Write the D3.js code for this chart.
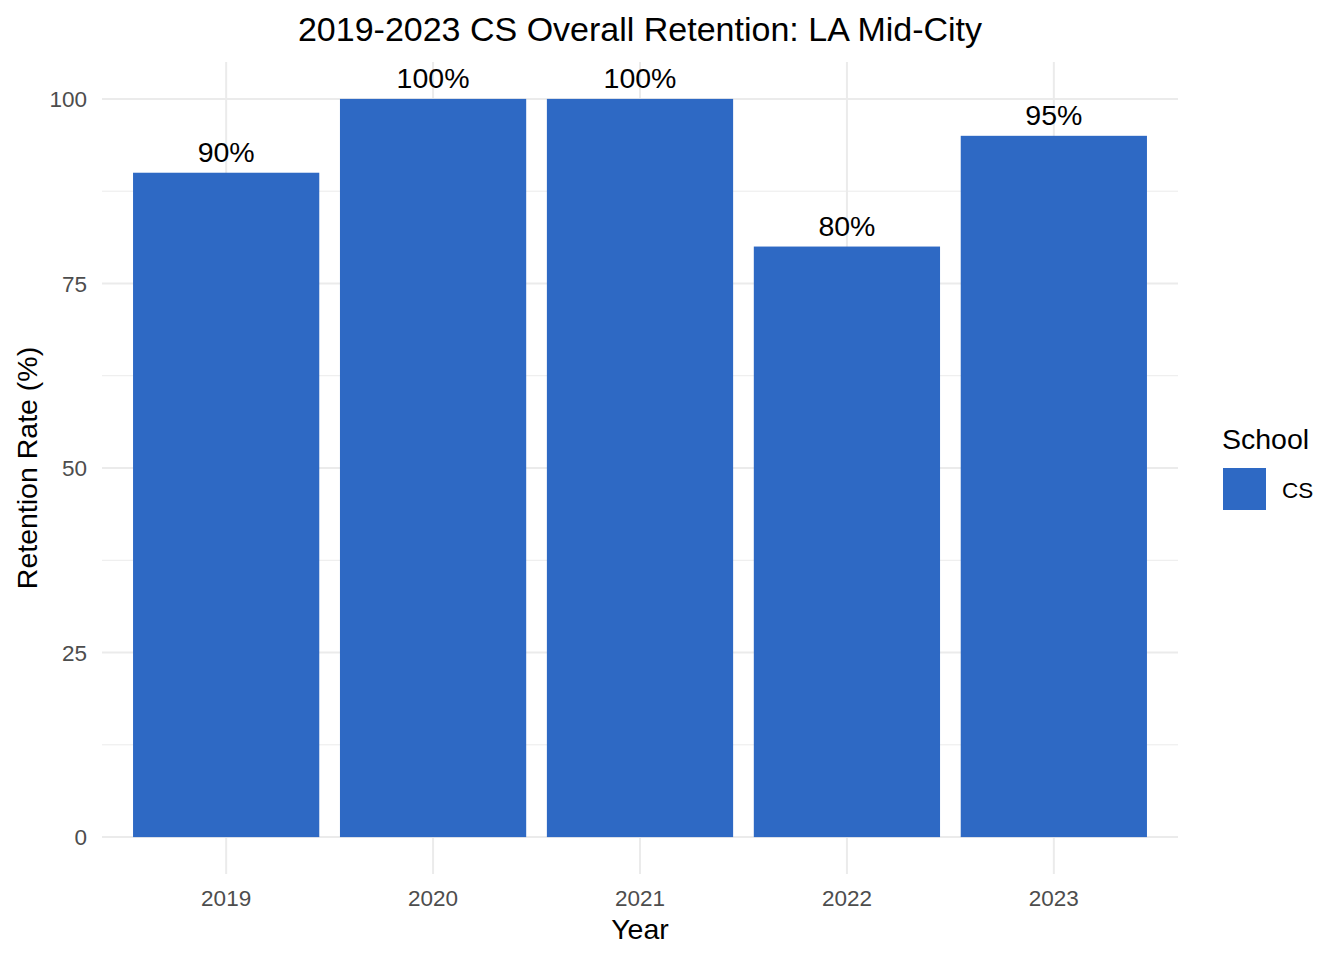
<!DOCTYPE html>
<html>
<head>
<meta charset="utf-8">
<script src="https://cdn.jsdelivr.net/npm/d3@7"></script>
<style>
  body { margin: 0; background: #fff; }
  text { font-family: "Liberation Sans", Arial, sans-serif; }
</style>
</head>
<body>
<svg id="chart" width="1344" height="960"></svg>
<script>
const years = ["2019", "2020", "2021", "2022", "2023"];
const retention = [90, 100, 100, 80, 95];
const yTicks = [0, 25, 50, 75, 100];
const yMinor = [12.5, 37.5, 62.5, 87.5];
const schools = ["CS"];

function draw() {
    let svg = d3.select("#chart");
    let panel = {left: 102, right: 1178, top: 62, bottom: 874};
    let barColor = "#2E69C4";
    let gridColor = "#ebebeb";

    // discrete x like ggplot: step per category, 0.6 expansion each side, bar width 0.9
    let x = d3.scalePoint()
        .domain(years)
        .range([panel.left, panel.right])
        .padding(0.6);
    let barW = x.step() * 0.9;

    let y = d3.scaleLinear()
        .domain([-5, 105])
        .range([panel.bottom, panel.top]);

    let grid = svg.append("g");
    grid.selectAll("line.minor").data(yMinor).enter()
        .append("line")
        .attr("x1", panel.left).attr("x2", panel.right)
        .attr("y1", d => y(d)).attr("y2", d => y(d))
        .style("stroke", gridColor).style("stroke-width", 1);
    grid.selectAll("line.major").data(yTicks).enter()
        .append("line")
        .attr("x1", panel.left).attr("x2", panel.right)
        .attr("y1", d => y(d)).attr("y2", d => y(d))
        .style("stroke", gridColor).style("stroke-width", 2);
    grid.selectAll("line.vert").data(years).enter()
        .append("line")
        .attr("x1", d => x(d)).attr("x2", d => x(d))
        .attr("y1", panel.top).attr("y2", panel.bottom)
        .style("stroke", gridColor).style("stroke-width", 2);

    let data = years.map((yr, i) => ({year: yr, value: retention[i]}));

    svg.append("g").selectAll("rect").data(data).enter()
        .append("rect")
        .attr("x", d => x(d.year) - barW / 2)
        .attr("width", barW)
        .attr("y", d => y(d.value))
        .attr("height", d => y(0) - y(d.value))
        .style("fill", barColor);

    svg.append("g").selectAll("text").data(data).enter()
        .append("text")
        .attr("x", d => x(d.year))
        .attr("y", d => y(d.value) - 10.5)
        .attr("text-anchor", "middle")
        .style("font-size", "28.5px")
        .style("fill", "#000")
        .text(d => d.value + "%");

    // y tick labels
    svg.append("g").selectAll("text").data(yTicks).enter()
        .append("text")
        .attr("x", 87)
        .attr("y", d => y(d))
        .attr("dy", "0.36em")
        .attr("text-anchor", "end")
        .style("font-size", "22.5px")
        .style("fill", "#4d4d4d")
        .text(d => d);

    // x tick labels
    svg.append("g").selectAll("text").data(years).enter()
        .append("text")
        .attr("x", d => x(d))
        .attr("y", 906)
        .attr("text-anchor", "middle")
        .style("font-size", "22.5px")
        .style("fill", "#4d4d4d")
        .text(d => d);

    svg.append("text")
        .attr("x", (panel.left + panel.right) / 2)
        .attr("y", 939)
        .attr("text-anchor", "middle")
        .style("font-size", "28.5px")
        .text("Year");

    svg.append("text")
        .attr("transform", "translate(37," + ((panel.top + panel.bottom) / 2) + ") rotate(-90)")
        .attr("text-anchor", "middle")
        .style("font-size", "28.5px")
        .text("Retention Rate (%)");

    svg.append("text")
        .attr("x", (panel.left + panel.right) / 2)
        .attr("y", 41)
        .attr("text-anchor", "middle")
        .style("font-size", "34px")
        .text("2019-2023 CS Overall Retention: LA Mid-City");

    // legend
    let legend = svg.append("g");
    legend.append("text")
        .attr("x", 1222).attr("y", 449)
        .style("font-size", "28.5px")
        .text("School");
    let item = legend.selectAll("g.item").data(schools).enter()
        .append("g");
    item.append("rect")
        .attr("x", 1223).attr("y", 468)
        .attr("width", 43).attr("height", 42)
        .style("fill", barColor);
    item.append("text")
        .attr("x", 1282).attr("y", 498)
        .style("font-size", "22.5px")
        .text(d => d);
}

draw();
</script>
</body>
</html>
